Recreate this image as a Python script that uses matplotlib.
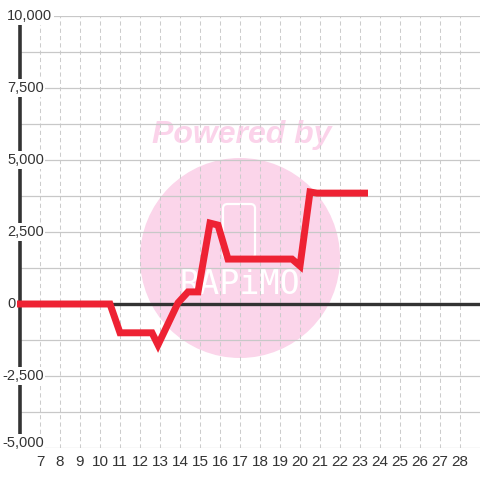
import matplotlib
matplotlib.use("Agg")
import matplotlib.pyplot as plt
from matplotlib import transforms
from matplotlib.patches import Ellipse, FancyBboxPatch

plt.rcParams['font.family'] = ['Liberation Sans', 'DejaVu Sans']

# data
x_vals = [5.85, 10.5, 11.0, 12.6, 12.9, 13.9, 14.4, 14.9, 15.5, 15.9, 16.4,
          19.6, 20.0, 20.5, 20.85, 23.4]
y_vals = [0, 0, -1000, -1000, -1420, 40, 420, 420, 2810, 2740, 1560,
          1560, 1320, 3890, 3850, 3850]

x_ticks = list(range(7, 29))
y_major = [-5000, -2500, 0, 2500, 5000, 7500, 10000]
y_grid = [-5000 + 1250 * i for i in range(13)]

fig = plt.figure(figsize=(4.8, 4.8), dpi=100)
ax = fig.add_axes([20 / 480, 32 / 480, 460 / 480, 432 / 480])
ax.set_xlim(6, 29)
ax.set_ylim(-5000, 10000)

#### GRID ####
ax.set_axisbelow(True)
ax.set_xticks(x_ticks)
ax.set_yticks(y_grid)
ax.grid(axis='y', color='#c8c8c8', lw=0.9, ls='-')
ax.grid(axis='x', color='#cccccc', lw=0.75, ls=(0, (4, 3)))
ax.tick_params(length=0)
ax.set_yticklabels([])
ax.set_xticklabels([str(t) for t in x_ticks], fontsize=11, color='#333333')
ax.tick_params(axis='x', pad=5)

for side in ['top', 'right', 'bottom']:
    ax.spines[side].set_visible(False)
ax.spines['left'].set_color('#333333')
ax.spines['left'].set_linewidth(2.6)
ax.spines['left'].set_zorder(2.5)

#### WATERMARK ####
ax.add_patch(Ellipse((220 / 460, 190 / 432), 200 / 460, 200 / 432,
                     transform=ax.transAxes, fc='#fbd5ea', ec='none', zorder=0.2))
ax.add_patch(FancyBboxPatch((203 / 460, 190 / 432), 32 / 460, 54 / 432,
                            boxstyle='round,pad=0,rounding_size=0.01',
                            transform=ax.transAxes, fc='none', ec='white',
                            lw=1.6, zorder=0.3))
ax.text(220 / 460, 163 / 432, 'RAPiMO', transform=ax.transAxes, ha='center',
        va='center', fontsize=24, color='white', family='DejaVu Sans Mono',
        zorder=0.3)
ax.text(222 / 460, 313 / 432, 'Powered by', transform=ax.transAxes,
        ha='center', va='center', fontsize=23, color='#fbd3ea',
        fontweight='bold', fontstyle='italic', zorder=0.3)

#### LINES ####
ax.axhline(0, color='#333333', lw=2.4, zorder=3)
ax.plot(x_vals, y_vals, color='#ee2233', lw=5, zorder=4,
        solid_joinstyle='miter', solid_capstyle='butt', clip_on=False)

#### Y LABELS ####
trans = transforms.blended_transform_factory(fig.transFigure, ax.transData)
for v in y_major:
    xpos = 2 / 480 if v < 0 else 7 / 480
    # bottom label sits a little higher so it clears the x labels
    lift = 5 if v == y_major[0] else 0
    t = transforms.offset_copy(trans, fig=fig, x=0, y=lift, units='dots')
    ax.text(xpos, v, '{:,}'.format(v), transform=t, ha='left',
            va='center', fontsize=10.5, color='#333333', zorder=6,
            clip_on=False,
            bbox=dict(fc='white', ec='none', pad=1.2))

fig.savefig('out.png', dpi=100)
